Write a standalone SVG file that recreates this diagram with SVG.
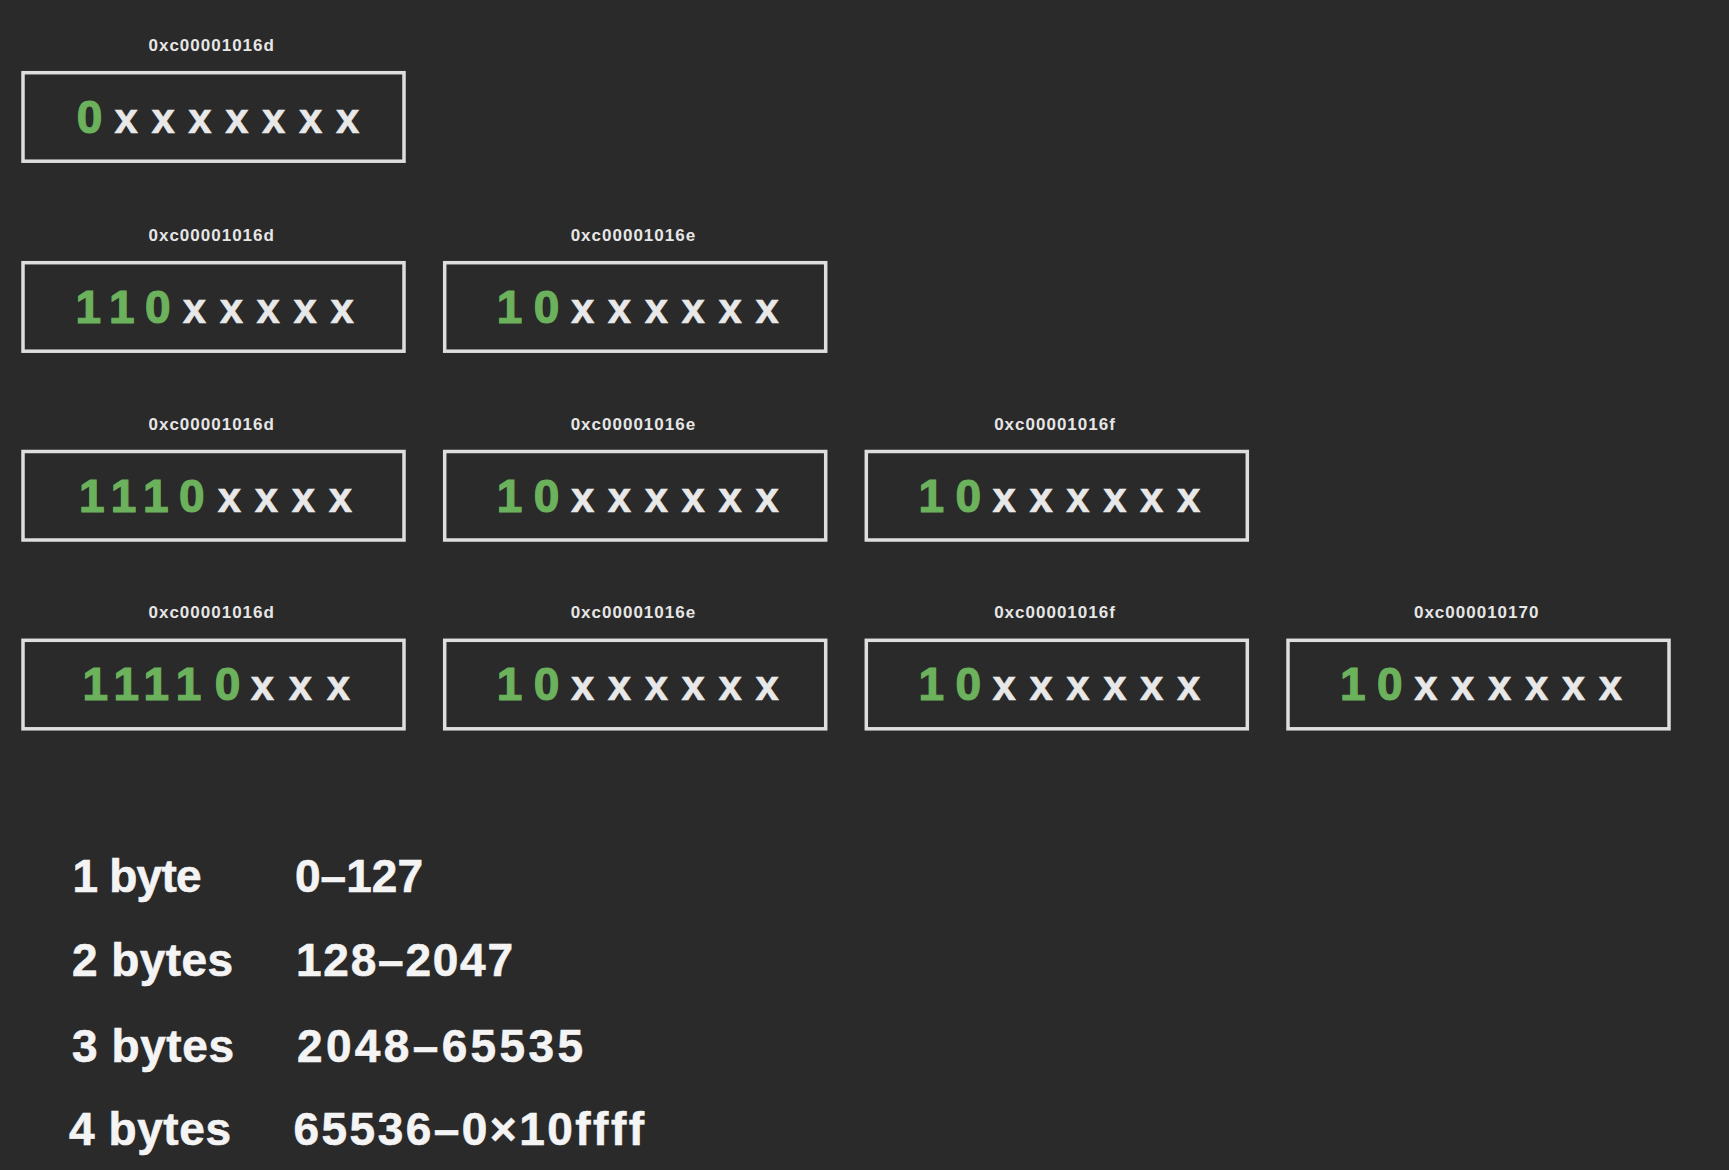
<svg xmlns="http://www.w3.org/2000/svg" width="1729" height="1170" viewBox="0 0 1729 1170">
<style>
.box{fill:none;stroke:#dedede;stroke-width:3.5}
.lbl{font-family:"Liberation Sans",Arial,sans-serif;font-weight:bold;font-size:17px;fill:#e6e6e6;text-anchor:middle;letter-spacing:1px}
.g{font-family:"Liberation Sans",Arial,sans-serif;font-weight:bold;font-size:46px;fill:#6cb15c;stroke:#6cb15c;stroke-width:1.2}
.w{font-family:"Liberation Sans",Arial,sans-serif;font-weight:bold;font-size:42px;fill:#e8e8e8;stroke:#e8e8e8;stroke-width:0.6}
.t{font-family:"Liberation Sans",Arial,sans-serif;font-weight:bold;font-size:46px;fill:#f4f4f4;stroke:#f4f4f4;stroke-width:0.6}
</style>
<rect width="1729" height="1170" fill="#2a2a2a"/>
<g id="connectors"></g>
<g id="row1-b1">
<rect class="box" x="23" y="72.7" width="381" height="88.5"/>
<text class="lbl" x="211.7" y="50.7">0xc00001016d</text>
<text class="g" x="76.8" y="132.7">0</text>
<text class="w" x="114.5 151.4 188.3 225.2 262.1 299 335.9" y="132.7">xxxxxxx</text>
</g>
<g id="row2-b1">
<rect class="box" x="23" y="262.7" width="381" height="88.5"/>
<text class="lbl" x="211.7" y="240.7">0xc00001016d</text>
<text class="g" x="75.4 109.1 145" y="322.7">110</text>
<text class="w" x="182.8 219.7 256.6 293.5 330.4" y="322.7">xxxxx</text>
</g>
<g id="row2-b2">
<rect class="box" x="444.7" y="262.7" width="381" height="88.5"/>
<text class="lbl" x="633.4" y="240.7">0xc00001016e</text>
<text class="g" x="496.8 533.8" y="322.7">10</text>
<text class="w" x="570.9 607.8 644.7 681.6 718.5 755.4" y="322.7">xxxxxx</text>
</g>
<g id="row3-b1">
<rect class="box" x="23" y="451.5" width="381" height="88.5"/>
<text class="lbl" x="211.7" y="429.5">0xc00001016d</text>
<text class="g" x="79.1 110.7 143.1 179" y="511.5">1110</text>
<text class="w" x="217.8 254.8 291.8 328.8" y="511.5">xxxx</text>
</g>
<g id="row3-b2">
<rect class="box" x="444.7" y="451.5" width="381" height="88.5"/>
<text class="lbl" x="633.4" y="429.5">0xc00001016e</text>
<text class="g" x="496.8 533.8" y="511.5">10</text>
<text class="w" x="570.9 607.8 644.7 681.6 718.5 755.4" y="511.5">xxxxxx</text>
</g>
<g id="row3-b3">
<rect class="box" x="866.3" y="451.5" width="381" height="88.5"/>
<text class="lbl" x="1055" y="429.5">0xc00001016f</text>
<text class="g" x="918.4 955.4" y="511.5">10</text>
<text class="w" x="992.5 1029.4 1066.3 1103.2 1140.1 1177" y="511.5">xxxxxx</text>
</g>
<g id="row4-b1">
<rect class="box" x="23" y="640.3" width="381" height="88.5"/>
<text class="lbl" x="211.7" y="618.3">0xc00001016d</text>
<text class="g" x="82.4 113.4 143.4 175.7 214.8" y="700.3">11110</text>
<text class="w" x="250.8 288.8 326.8" y="700.3">xxx</text>
</g>
<g id="row4-b2">
<rect class="box" x="444.7" y="640.3" width="381" height="88.5"/>
<text class="lbl" x="633.4" y="618.3">0xc00001016e</text>
<text class="g" x="496.8 533.8" y="700.3">10</text>
<text class="w" x="570.9 607.8 644.7 681.6 718.5 755.4" y="700.3">xxxxxx</text>
</g>
<g id="row4-b3">
<rect class="box" x="866.3" y="640.3" width="381" height="88.5"/>
<text class="lbl" x="1055" y="618.3">0xc00001016f</text>
<text class="g" x="918.4 955.4" y="700.3">10</text>
<text class="w" x="992.5 1029.4 1066.3 1103.2 1140.1 1177" y="700.3">xxxxxx</text>
</g>
<g id="row4-b4">
<rect class="box" x="1288" y="640.3" width="381" height="88.5"/>
<text class="lbl" x="1476.7" y="618.3">0xc000010170</text>
<text class="g" x="1340.1 1377.1" y="700.3">10</text>
<text class="w" x="1414.2 1451.1 1488 1524.9 1561.8 1598.7" y="700.3">xxxxxx</text>
</g>
<g id="legend">
<text class="t" x="72.5" y="891.5" textLength="129" lengthAdjust="spacing">1 byte</text>
<text class="t" x="295" y="891.5" textLength="128" lengthAdjust="spacing">0–127</text>
<text class="t" x="72" y="976" textLength="161" lengthAdjust="spacing">2 bytes</text>
<text class="t" x="296" y="976" textLength="217" lengthAdjust="spacing">128–2047</text>
<text class="t" x="72" y="1061.5" textLength="162" lengthAdjust="spacing">3 bytes</text>
<text class="t" x="297" y="1061.5" textLength="286" lengthAdjust="spacing">2048–65535</text>
<text class="t" x="69" y="1145" textLength="162" lengthAdjust="spacing">4 bytes</text>
<text class="t" x="293.5" y="1145" textLength="350.5" lengthAdjust="spacing">65536–0×10ffff</text>
</g>
</svg>
